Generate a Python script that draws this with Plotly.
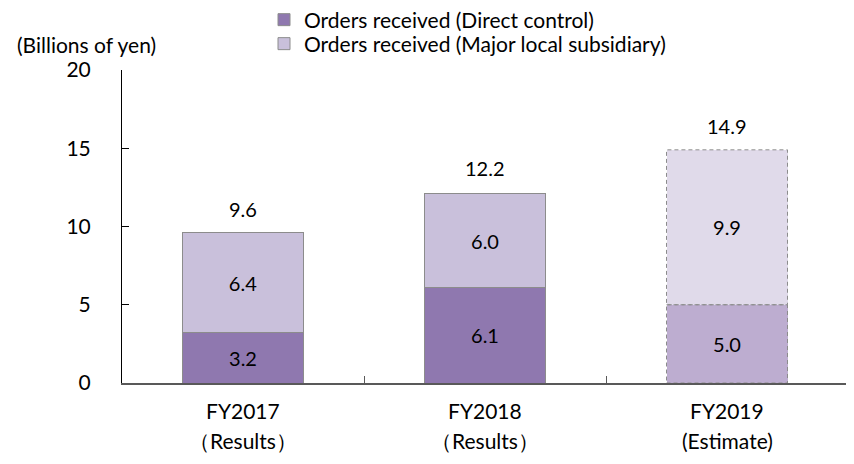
import plotly.graph_objects as go

categories = ["FY2017", "FY2018", "FY2019"]
subtitles = ["（Results）", "（Results）", "(Estimate)"]
direct = [3.2, 6.1, 5.0]
subsidiary = [6.4, 6.0, 9.9]
totals = [9.6, 12.2, 14.9]
estimate_flags = [False, False, True]
y_ticks = [0, 5, 10, 15, 20]

FONT = "Lato"
direct_colors = ["#BDADD0" if e else "#8F78AF" for e in estimate_flags]
sub_colors = ["#E0DAEA" if e else "#C9C0DB" for e in estimate_flags]
line_w = [0 if e else 1 for e in estimate_flags]

# page body has an 8px margin; layout below is expressed in figure pixels
L, R, T, B = 114, 14, 62, 89
PW, PH = 854 - L - R, 464 - T - B

fig = go.Figure()
fig.add_trace(go.Bar(
    x=categories, y=direct, name="Orders received (Direct control)",
    marker=dict(color=direct_colors, line=dict(color="#8C8C8C", width=line_w)),
    text=[f"{v:.1f}" for v in direct], textposition="inside",
    insidetextanchor="middle", textfont=dict(size=20, color="black", family=FONT),
    width=0.5, legend="legend",
))
fig.add_trace(go.Bar(
    x=categories, y=subsidiary, name="Orders received (Major local subsidiary)",
    marker=dict(color=sub_colors, line=dict(color="#8C8C8C", width=line_w)),
    text=[f"{v:.1f}" for v in subsidiary], textposition="inside",
    insidetextanchor="middle", textfont=dict(size=20, color="black", family=FONT),
    width=0.5, legend="legend2",
))

# dashed outlines for estimate bars
for i, e in enumerate(estimate_flags):
    if e:
        for y0, y1 in [(0, direct[i]), (direct[i], direct[i] + subsidiary[i])]:
            fig.add_shape(type="rect", xref="x", yref="y",
                          x0=i - 0.25, x1=i + 0.25, y0=y0, y1=y1,
                          line=dict(color="#8C8C8C", width=1, dash="4px,3px"),
                          fillcolor="rgba(0,0,0,0)", layer="above")

# totals above bars
for c, t in zip(categories, totals):
    fig.add_annotation(x=c, y=t, xref="x", yref="y", text=f"{t:.1f}", showarrow=False,
                       yanchor="middle", yshift=24,
                       font=dict(size=20, color="black", family=FONT))

# category labels (two rows)
for i, c in enumerate(categories):
    fig.add_annotation(x=c, y=0, xref="x", yref="y", text=c, showarrow=False,
                       yanchor="middle", yshift=-27,
                       font=dict(size=21, color="black", family=FONT))
    fig.add_annotation(x=c, y=0, xref="x", yref="y", text=subtitles[i], showarrow=False,
                       yanchor="middle", yshift=-57,
                       font=dict(size=21, color="black", family=FONT))

fig.add_annotation(x=(78 - L) / PW, y=1 + (T - 37) / PH, xref="paper", yref="paper",
                   text="(Billions of yen)", showarrow=False,
                   xanchor="center", yanchor="middle",
                   font=dict(size=21, color="black", family=FONT))

legend_common = dict(orientation="v", xanchor="left", yanchor="middle",
                     font=dict(size=21, family=FONT), bgcolor="rgba(0,0,0,0)",
                     x=(256 - L) / PW)

fig.update_layout(
    width=854, height=464,
    margin=dict(l=L, r=R, t=T, b=B, autoexpand=False),
    barmode="stack",
    plot_bgcolor="white", paper_bgcolor="white",
    font=dict(family=FONT, size=18, color="black"),
    showlegend=True,
    legend=dict(**legend_common, y=1 + (T - 12) / PH),
    legend2=dict(**legend_common, y=1 + (T - 36) / PH),
    xaxis=dict(type="category", showticklabels=False, tickson="boundaries",
               ticks="inside", ticklen=7, tickcolor="#595959",
               showline=True, linecolor="#595959", linewidth=1.5,
               showgrid=False, zeroline=False, range=[-0.5, 2.5]),
    yaxis=dict(range=[0, 20], tickvals=y_ticks, ticks="inside", ticklen=7,
               tickcolor="black", showline=True, linecolor="black", linewidth=1,
               showgrid=False, zeroline=False, ticklabelstandoff=26,
               tickfont=dict(size=21, family=FONT)),
)

fig.write_html("out.html")
